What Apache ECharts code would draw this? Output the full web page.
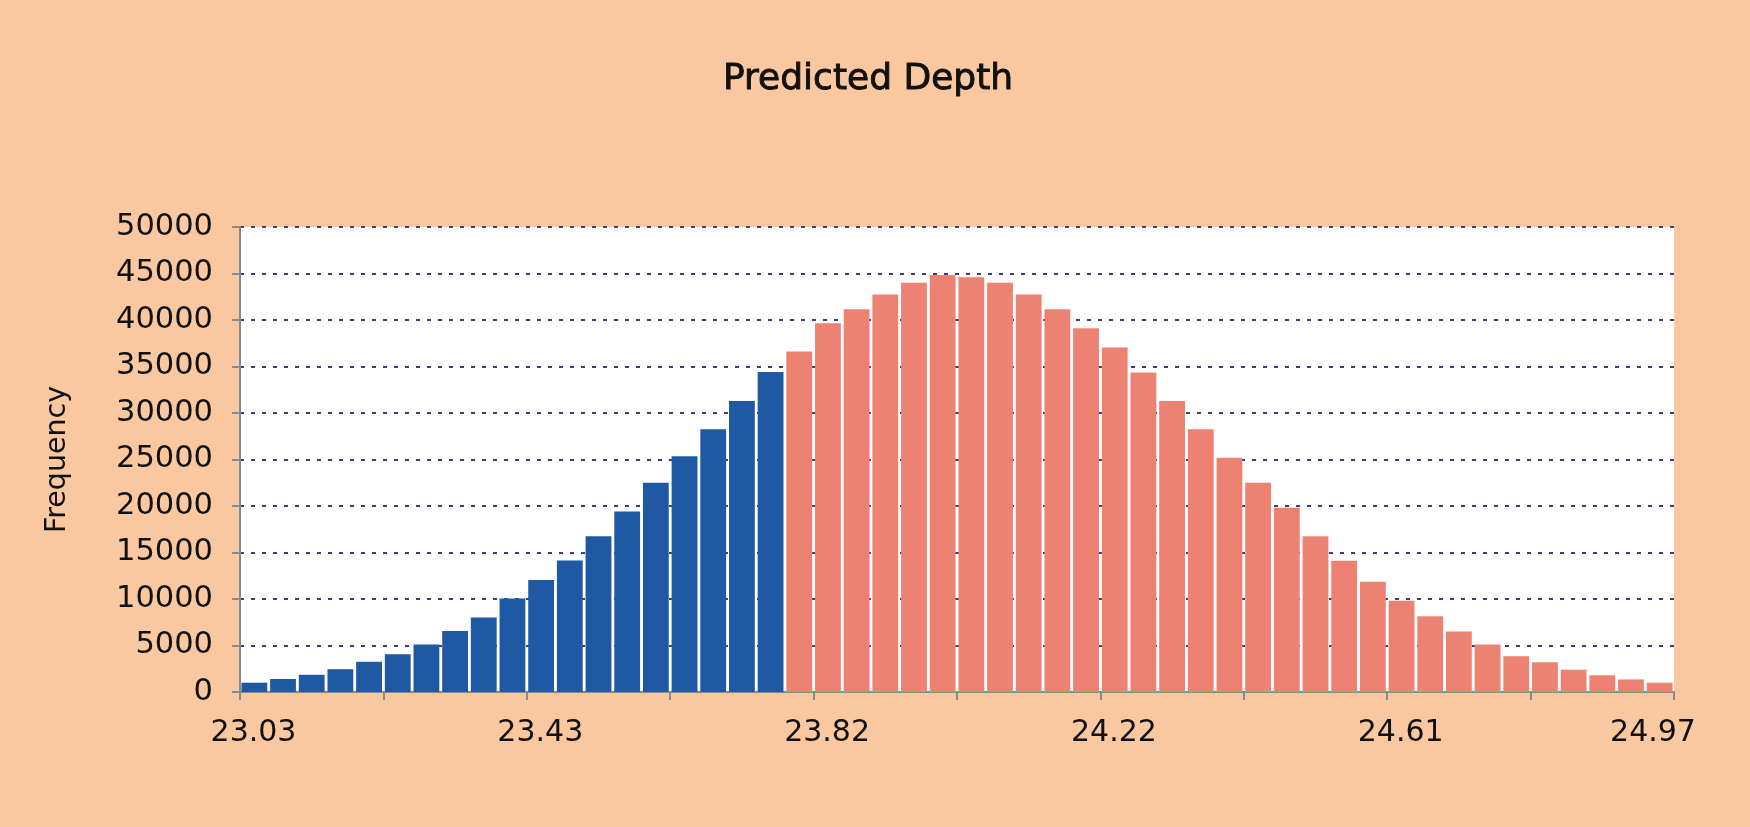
<!DOCTYPE html>
<html>
<head>
<meta charset="utf-8">
<script src="https://cdn.jsdelivr.net/npm/echarts@6/dist/echarts.min.js"></script>
<style>
html,body{margin:0;padding:0;background:#F9C8A0;}
#chart{width:1750px;height:827px;}
</style>
</head>
<body>
<div id="chart"></div>
<script>
// Histogram bins (50 bins); first 19 highlighted in blue, the rest in red
const binIndex = Array.from({length: 50}, (_, i) => String(i + 1));
const blueCounts = [1000, 1400, 1850, 2450, 3250, 4050, 5100, 6550, 8000, 10050,
  12050, 14150, 16750, 19400, 22500, 25350, 28250, 31300, 34400];
const redCounts = [36600, 39650, 41150, 42750, 44000, 44850, 44600, 44000, 42750, 41150,
  39100, 37050, 34350, 31300, 28250, 25200, 22500, 19800, 16750, 14100,
  11850, 9800, 8150, 6500, 5100, 3850, 3200, 2400, 1800, 1350, 1000];
const xTickLabels = ['23.03', '23.43', '23.82', '24.22', '24.61', '24.97'];
const yTicks = {min: 0, max: 50000, step: 5000};

const blueData = binIndex.map((_, i) => i < blueCounts.length ? blueCounts[i] : '-');
const redData = binIndex.map((_, i) => i >= blueCounts.length ? redCounts[i - blueCounts.length] : '-');

const FONT = 'DejaVu Sans';
const chart = echarts.init(document.getElementById('chart'));
chart.setOption({
  backgroundColor: '#F9C8A0',
  animation: false,
  title: {
    text: 'Predicted Depth',
    left: 718,
    top: 57,
    textStyle: {fontFamily: FONT, fontSize: 36, fontWeight: 'normal', color: '#111',
      textBorderColor: '#111', textBorderWidth: 0.9}
  },
  grid: {
    left: 240, right: 76, top: 227, bottom: 135,
    show: true, backgroundColor: '#ffffff', borderWidth: 0
  },
  xAxis: [
    {
      type: 'category',
      data: binIndex,
      boundaryGap: true,
      axisLine: {show: false},
      axisTick: {show: false},
      axisLabel: {show: false},
      splitLine: {show: false}
    },
    {
      type: 'value',
      min: 0, max: binIndex.length, interval: 5,
      position: 'bottom',
      axisLine: {show: true, lineStyle: {color: '#8a8a8a', width: 2}},
      axisTick: {show: true, length: 8, lineStyle: {color: '#8a8a8a', width: 2}},
      splitLine: {show: false},
      axisLabel: {
        margin: 26,
        fontFamily: FONT, fontSize: 30, color: '#111',
        formatter: v => {
          if (v % 10 !== 0) return '';
          const k = v / 10;
          return (k === xTickLabels.length - 1 ? '{b|' : '{a|') + xTickLabels[k] + '}';
        },
        rich: {
          a: {fontFamily: FONT, fontSize: 30, color: '#111', padding: [0, 0, 0, 27]},
          b: {fontFamily: FONT, fontSize: 30, color: '#111', padding: [0, 42, 0, 0]}
        }
      }
    }
  ],
  yAxis: {
    type: 'value',
    min: yTicks.min, max: yTicks.max, interval: yTicks.step,
    name: 'Frequency',
    nameLocation: 'middle',
    nameGap: 168,
    nameTextStyle: {fontFamily: FONT, fontSize: 28.5, color: '#111'},
    axisLine: {show: true, lineStyle: {color: '#8a8a8a', width: 2}},
    axisTick: {show: true, length: 8, lineStyle: {color: '#8a8a8a', width: 2}},
    axisLabel: {margin: 27, fontFamily: FONT, fontSize: 30.5, color: '#111',
      formatter: v => String(v)},
    splitLine: {show: true, lineStyle: {color: '#3c3c80', width: 2, type: [4, 7]}}
  },
  series: [
    {
      type: 'bar', xAxisIndex: 0, data: blueData,
      barCategoryGap: '10%', barGap: '-100%',
      itemStyle: {color: '#1F59A3'}
    },
    {
      type: 'bar', xAxisIndex: 0, data: redData,
      barCategoryGap: '10%', barGap: '-100%',
      itemStyle: {color: '#EC8272'}
    }
  ]
});
</script>
</body>
</html>
